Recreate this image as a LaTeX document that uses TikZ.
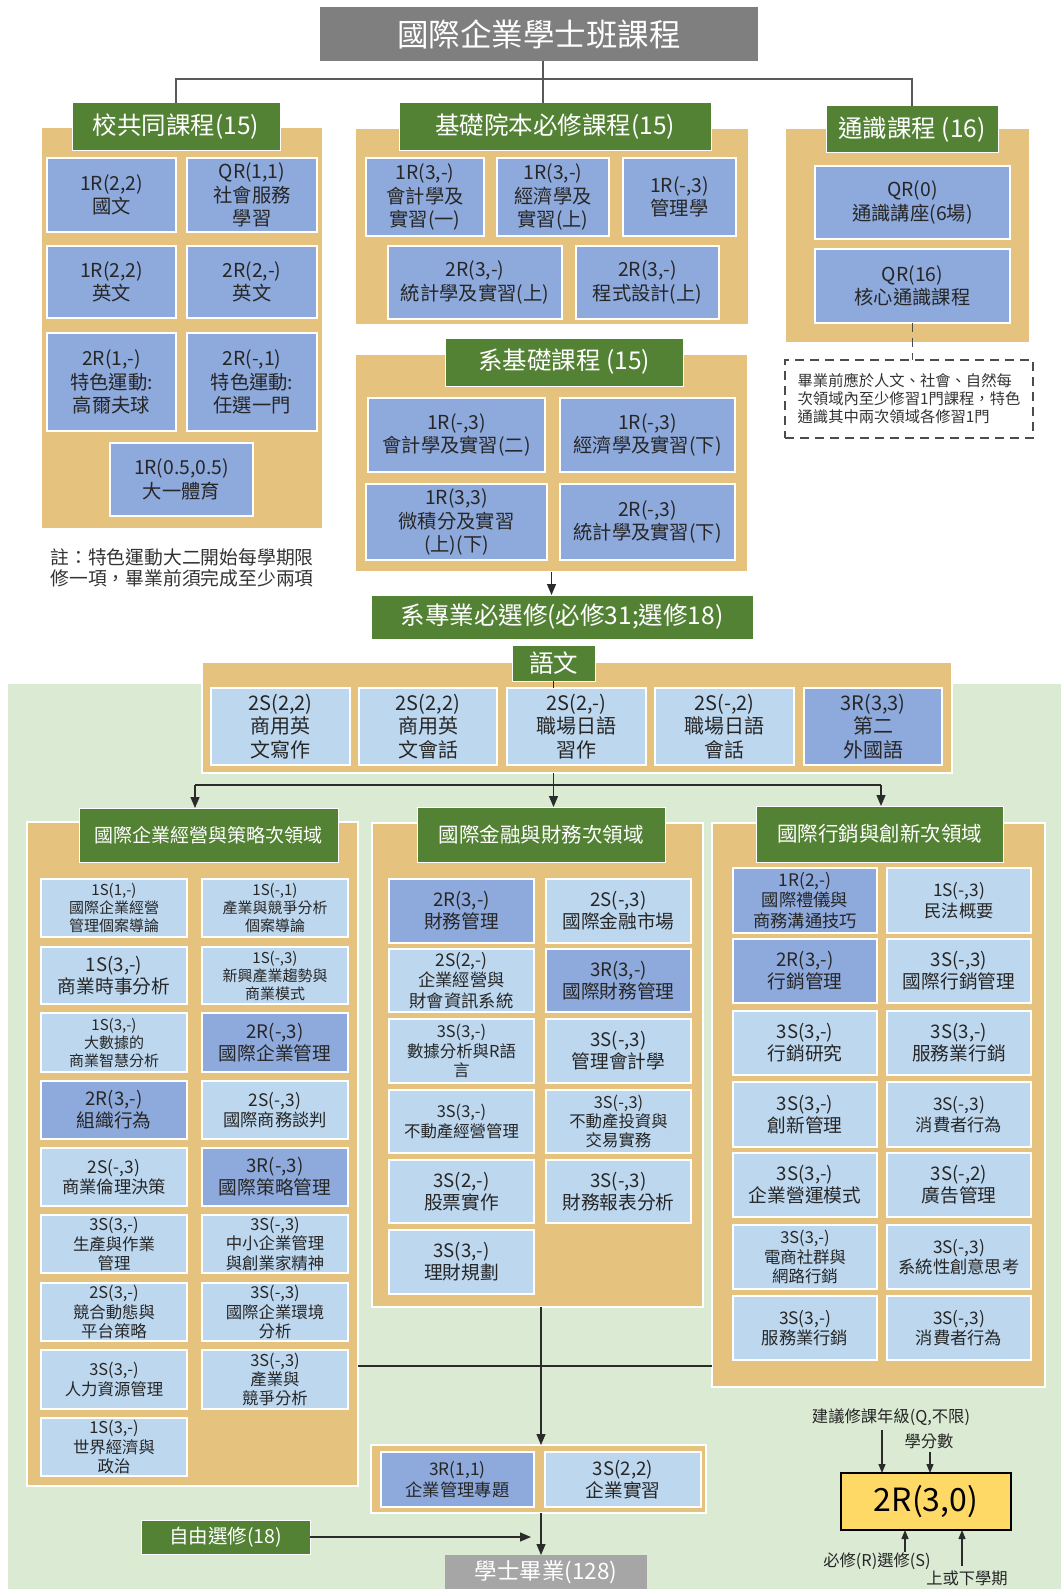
\documentclass[tikz,border=0pt]{standalone}
\usepackage{fontspec}
\setmainfont{Noto Sans CJK TC}
\usetikzlibrary{arrows.meta}
\definecolor{tanc}{HTML}{E6C27F}
\definecolor{hdgreen}{HTML}{548235}
\definecolor{sblue}{HTML}{BDD7EE}
\definecolor{rblue}{HTML}{8EA9DB}
\definecolor{bggreen}{HTML}{DAEAD3}
\definecolor{titlegray}{HTML}{7F7F7F}
\definecolor{gradgray}{HTML}{A6A6A6}
\definecolor{legy}{HTML}{FFD966}
\definecolor{txt}{HTML}{262626}
\definecolor{lineg}{HTML}{2B2B2B}
\newcommand\fs[2]{\fontsize{#1}{#2}\selectfont}
\newcommand\bx[7]{\node[#2, minimum width={#5-#3}, minimum height={#6-#4}] (#1) at ({(#3+#5)/2},{(#4+#6)/2}) {#7};}
\tikzset{
  rect/.style={inner sep=0pt, outer sep=0pt, align=center, text=txt},
  panel/.style={rect, fill=tanc, draw=white, line width=1.5pt},
  hdr/.style={rect, fill=hdgreen, draw=white, line width=1pt, text=white},
  rbox/.style={rect, fill=rblue, draw=white, line width=1.5pt},
  sbox/.style={rect, fill=sblue, draw=white, line width=1.5pt},
  ftop/.style={font=\fs{19.3}{23.5}},
  fbig/.style={font=\fs{18.7}{22}},
  fmidb/.style={font=\fs{17.3}{20.5}},
  fmid/.style={font=\fs{16.4}{19.2}},
  fsmall/.style={font=\fs{15}{18}},
  conn/.style={draw=lineg, line width=1.2pt},
  arr/.style={conn, -{Triangle[width=9pt,length=11pt]}},
  sarr/.style={conn, -{Triangle[width=7pt,length=9pt]}},
}
\begin{document}
\begin{tikzpicture}[x=1pt,y=-1pt]
\useasboundingbox (0,0) rectangle (1061,1589);
\fill[white] (0,0) rectangle (1061,1589);

% title
\bx{title}{rect, fill=titlegray, text=white, font=\fs{31.5}{35}}{320}{7}{758}{61}{國際企業學士班課程}

% ---------- left section
\bx{pA}{panel}{41}{127}{323}{529}{}
\bx{hdA}{hdr, font=\fs{24.5}{27}}{72}{103}{280}{151}{校共同課程(15)}
\bx{a1}{rbox, ftop}{47}{158}{176}{232}{1R(2,2)\\國文}
\bx{a2}{rbox, ftop}{187}{158}{317}{232}{QR(1,1)\\社會服務\\學習}
\bx{a3}{rbox, ftop}{47}{246}{176}{318}{1R(2,2)\\英文}
\bx{a4}{rbox, ftop}{187}{246}{317}{318}{2R(2,-)\\英文}
\bx{a5}{rbox, ftop}{47}{333}{176}{431}{2R(1,-)\\特色運動:\\高爾夫球}
\bx{a6}{rbox, ftop}{187}{333}{317}{431}{2R(-,1)\\特色運動:\\任選一門}
\bx{a7}{rbox, ftop}{110}{443}{253}{516}{1R(0.5,0.5)\\大一體育}
\node[rect, text=black!80, font=\fs{18.8}{21.5}] (noteA) at (182,568) {註：特色運動大二開始每學期限\\修一項，畢業前須完成至少兩項};

% ---------- middle section
\bx{pB}{panel}{355}{128}{749}{325}{}
\bx{hdB}{hdr, font=\fs{24.5}{27}}{399}{103}{711}{151}{基礎院本必修課程(15)}
\bx{b1}{rbox, ftop}{366}{158}{484}{236}{1R(3,-)\\會計學及\\實習(一)}
\bx{b2}{rbox, ftop}{497}{158}{609}{236}{1R(3,-)\\經濟學及\\實習(上)}
\bx{b3}{rbox, ftop}{623}{158}{736}{236}{1R(-,3)\\管理學}
\bx{b4}{rbox, ftop}{388}{246}{562}{319}{2R(3,-)\\統計學及實習(上)}
\bx{b5}{rbox, ftop}{576}{246}{719}{319}{2R(3,-)\\程式設計(上)}

% ---------- right section
\bx{pC}{panel}{785}{128}{1030}{343}{}
\bx{hdC}{hdr, font=\fs{24.5}{27}}{826}{106}{998}{153}{通識課程 (16)}
\bx{c1}{rbox, ftop}{815}{166}{1010}{239}{QR(0)\\通識講座(6場)}
\bx{c2}{rbox, ftop}{815}{249}{1010}{323}{QR(16)\\核心通識課程}
\node[rect, draw=black!70, dash pattern=on 9pt off 6pt, line width=1.5pt, fill=white, text=black!80, align=left, minimum width=248, minimum height=78, font=\fs{15.3}{18}] (noteC) at (909,399) {畢業前應於人文、社會、自然每\\次領域內至少修習1門課程，特色\\通識其中兩次領域各修習1門};

% ---------- dept basics
\bx{pD}{panel}{355}{354}{748}{572}{}
\bx{hdD}{hdr, font=\fs{24.5}{27}}{445}{338}{683}{386}{系基礎課程 (15)}
\bx{d1}{rbox, ftop}{368}{398}{545}{472}{1R(-,3)\\會計學及實習(二)}
\bx{d2}{rbox, ftop}{560}{398}{735}{472}{1R(-,3)\\經濟學及實習(下)}
\bx{d3}{rbox, ftop}{366}{484}{547}{560}{1R(3,3)\\微積分及實習\\(上)(下)}
\bx{d4}{rbox, ftop}{560}{484}{735}{560}{2R(-,3)\\統計學及實習(下)}

\bx{zhuan}{hdr, font=\fs{24.5}{27}}{371}{595}{753}{639}{系專業必選修(必修31;選修18)}

% ---------- green background
\fill[bggreen] (8,684) rectangle (1061,1589);

% ---------- language
\bx{pL0}{panel}{202}{662}{952}{773}{}
\bx{yuwen}{hdr, font=\fs{24.5}{27}}{512}{645}{595}{681}{語文}
\bx{l1}{sbox, font=\fs{20}{23.5}}{211}{688}{350}{765}{2S(2,2)\\商用英\\文寫作}
\bx{l2}{sbox, font=\fs{20}{23.5}}{359}{688}{497}{765}{2S(2,2)\\商用英\\文會話}
\bx{l3}{sbox, font=\fs{20}{23.5}}{507}{688}{646}{765}{2S(2,-)\\職場日語\\習作}
\bx{l4}{sbox, font=\fs{20}{23.5}}{655}{688}{794}{765}{2S(-,2)\\職場日語\\會話}
\bx{l5}{rbox, font=\fs{20}{23.5}}{804}{688}{942}{765}{3R(3,3)\\第二\\外國語}

% ---------- left subdomain
\bx{pL}{panel}{27}{822}{358}{1486}{}
\bx{hdL}{hdr, font=\fs{19}{23}}{79}{808}{338}{862}{國際企業經營與策略次領域}
\bx{L1a}{sbox, fsmall}{41}{879}{187}{937}{1S(1,-)\\國際企業經營\\管理個案導論}
\bx{L1b}{sbox, fsmall}{202}{879}{348}{937}{1S(-,1)\\產業與競爭分析\\個案導論}
\bx{L2a}{sbox, fbig}{41}{947}{187}{1004}{1S(3,-)\\商業時事分析}
\bx{L2b}{sbox, fsmall}{202}{947}{348}{1004}{1S(-,3)\\新興產業趨勢與\\商業模式}
\bx{L3a}{sbox, fsmall}{41}{1013}{187}{1072}{1S(3,-)\\大數據的\\商業智慧分析}
\bx{L3b}{rbox, fbig}{202}{1013}{348}{1072}{2R(-,3)\\國際企業管理}
\bx{L4a}{rbox, fbig}{41}{1081}{187}{1139}{2R(3,-)\\組織行為}
\bx{L4b}{sbox, fmidb}{202}{1081}{348}{1139}{2S(-,3)\\國際商務談判}
\bx{L5a}{sbox, fmidb}{41}{1148}{187}{1206}{2S(-,3)\\商業倫理決策}
\bx{L5b}{rbox, fbig}{202}{1148}{348}{1206}{3R(-,3)\\國際策略管理}
\bx{L6a}{sbox, fmid}{41}{1215}{187}{1273}{3S(3,-)\\生產與作業\\管理}
\bx{L6b}{sbox, fmid}{202}{1215}{348}{1273}{3S(-,3)\\中小企業管理\\與創業家精神}
\bx{L7a}{sbox, fmid}{41}{1283}{187}{1341}{2S(3,-)\\競合動態與\\平台策略}
\bx{L7b}{sbox, fmid}{202}{1283}{348}{1341}{3S(-,3)\\國際企業環境\\分析}
\bx{L8a}{sbox, fmid}{41}{1350}{187}{1409}{3S(3,-)\\人力資源管理}
\bx{L8b}{sbox, fmid}{202}{1350}{348}{1409}{3S(-,3)\\產業與\\競爭分析}
\bx{L9a}{sbox, fmid}{41}{1418}{187}{1476}{1S(3,-)\\世界經濟與\\政治}

% ---------- middle subdomain
\bx{pM}{panel}{372}{823}{703}{1307}{}
\bx{hdM}{hdr, font=\fs{20.5}{24}}{417}{807}{665}{862}{國際金融與財務次領域}
\bx{M1a}{rbox, fbig}{389}{879}{534}{943}{2R(3,-)\\財務管理}
\bx{M1b}{sbox, fbig}{546}{879}{691}{943}{2S(-,3)\\國際金融市場}
\bx{M2a}{sbox, fmidb}{389}{949}{534}{1012}{2S(2,-)\\企業經營與\\財會資訊系統}
\bx{M2b}{rbox, fbig}{546}{949}{691}{1012}{3R(3,-)\\國際財務管理}
\bx{M3a}{sbox, fmid}{389}{1019}{534}{1083}{3S(3,-)\\數據分析與R語\\言}
\bx{M3b}{sbox, fbig}{546}{1019}{691}{1083}{3S(-,3)\\管理會計學}
\bx{M4a}{sbox, fmid}{389}{1090}{534}{1153}{3S(3,-)\\不動產經營管理}
\bx{M4b}{sbox, fmid}{546}{1090}{691}{1153}{3S(-,3)\\不動產投資與\\交易實務}
\bx{M5a}{sbox, fbig}{389}{1160}{534}{1223}{3S(2,-)\\股票實作}
\bx{M5b}{sbox, fbig}{546}{1160}{691}{1223}{3S(-,3)\\財務報表分析}
\bx{M6a}{sbox, fbig}{389}{1230}{534}{1294}{3S(3,-)\\理財規劃}

% ---------- right subdomain
\bx{pR}{panel}{712}{823}{1045}{1387}{}
\bx{hdR}{hdr, font=\fs{20.5}{24}}{756}{806}{1003}{862}{國際行銷與創新次領域}
\bx{R1a}{rbox, fmidb}{733}{868}{877}{933}{1R(2,-)\\國際禮儀與\\商務溝通技巧}
\bx{R1b}{sbox, fmidb}{887}{868}{1031}{933}{1S(-,3)\\民法概要}
\bx{R2a}{rbox, fbig}{733}{939}{877}{1003}{2R(3,-)\\行銷管理}
\bx{R2b}{sbox, fbig}{887}{939}{1031}{1003}{3S(-,3)\\國際行銷管理}
\bx{R3a}{sbox, fbig}{733}{1011}{877}{1075}{3S(3,-)\\行銷研究}
\bx{R3b}{sbox, fbig}{887}{1011}{1031}{1075}{3S(3,-)\\服務業行銷}
\bx{R4a}{sbox, fbig}{733}{1082}{877}{1147}{3S(3,-)\\創新管理}
\bx{R4b}{sbox, fmidb}{887}{1082}{1031}{1147}{3S(-,3)\\消費者行為}
\bx{R5a}{sbox, fbig}{733}{1153}{877}{1217}{3S(3,-)\\企業營運模式}
\bx{R5b}{sbox, fbig}{887}{1153}{1031}{1217}{3S(-,2)\\廣告管理}
\bx{R6a}{sbox, fmid}{733}{1225}{877}{1289}{3S(3,-)\\電商社群與\\網路行銷}
\bx{R6b}{sbox, fmidb}{887}{1225}{1031}{1289}{3S(-,3)\\系統性創意思考}
\bx{R7a}{sbox, fmidb}{733}{1296}{877}{1360}{3S(3,-)\\服務業行銷}
\bx{R7b}{sbox, fmidb}{887}{1296}{1031}{1360}{3S(-,3)\\消費者行為}

% ---------- bottom
\bx{pBot}{panel}{371}{1445}{706}{1513}{}
\bx{e1}{rbox, fmidb}{381}{1452}{534}{1507}{3R(1,1)\\企業管理專題}
\bx{e2}{sbox, fbig}{545}{1452}{701}{1507}{3S(2,2)\\企業實習}
\bx{free}{hdr, font=\fs{19.5}{22}}{141}{1520}{310}{1554}{自由選修(18)}
\bx{grad}{rect, fill=gradgray, text=white, font=\fs{22.5}{25}}{445}{1555}{647}{1589}{學士畢業(128)}

% ---------- legend
\bx{leg}{rect, fill=legy, draw=black, line width=2pt, text=black, font=\fs{32}{36}}{841}{1473}{1011}{1530}{2R(3,0)}
\node[rect, font=\fs{16.3}{19}] (lg1) at (891,1417) {建議修課年級(Q,不限)};
\node[rect, font=\fs{16.3}{19}] (lg2) at (929,1441) {學分數};
\node[rect, font=\fs{16.3}{19}] (lg3) at (877,1561) {必修(R)選修(S)};
\node[rect, font=\fs{16.3}{19}] (lg4) at (967,1578) {上或下學期};
\coordinate (la1) at (882,1430);
\coordinate (la2) at (930,1452);
\coordinate (la3) at (905,1552);
\coordinate (la4) at (962,1566);
\draw[sarr] (la1) -- (la1 |- leg.north);
\draw[sarr] (la2) -- (la2 |- leg.north);
\draw[sarr] (la3) -- (la3 |- leg.south);
\draw[sarr] (la4) -- (la4 |- leg.south);

% ---------- connectors
\coordinate (bus) at (543,79);
\draw[conn, draw=black!65] (hdA.north) |- (bus) -| (hdC.north);
\draw[conn, draw=black!65] (title.south -| bus) -- (hdB.north -| bus);
\draw[conn, draw=black!70, dash pattern=on 9pt off 6pt] (c2.south) -- (c2.south |- noteC.north);
\draw[arr] (pD.south) -- (pD.south |- zhuan.north);
\draw[conn] (yuwen.south) -- (yuwen.south |- l3.north);
\draw[arr] (yuwen.south |- pL0.south) -- (yuwen.south |- hdM.north);
\coordinate (aL) at (195,785);
\coordinate (aR) at (881,785);
\draw[conn] (aL) -- (aR);
\draw[arr] (aL) -- (aL |- hdL.north);
\draw[arr] (aR) -- (aR |- hdR.north);
\coordinate (vx) at (541,1366);
\draw[conn] (pL.east |- vx) -- (pR.west |- vx);
\draw[arr] (pM.south -| vx) -- (pBot.north -| vx);
\draw[arr] (pBot.south -| vx) -- (grad.north -| vx);
\coordinate (fe) at (531,1537);
\draw[arr] (free.east) -- (fe);
\end{tikzpicture}
\end{document}
